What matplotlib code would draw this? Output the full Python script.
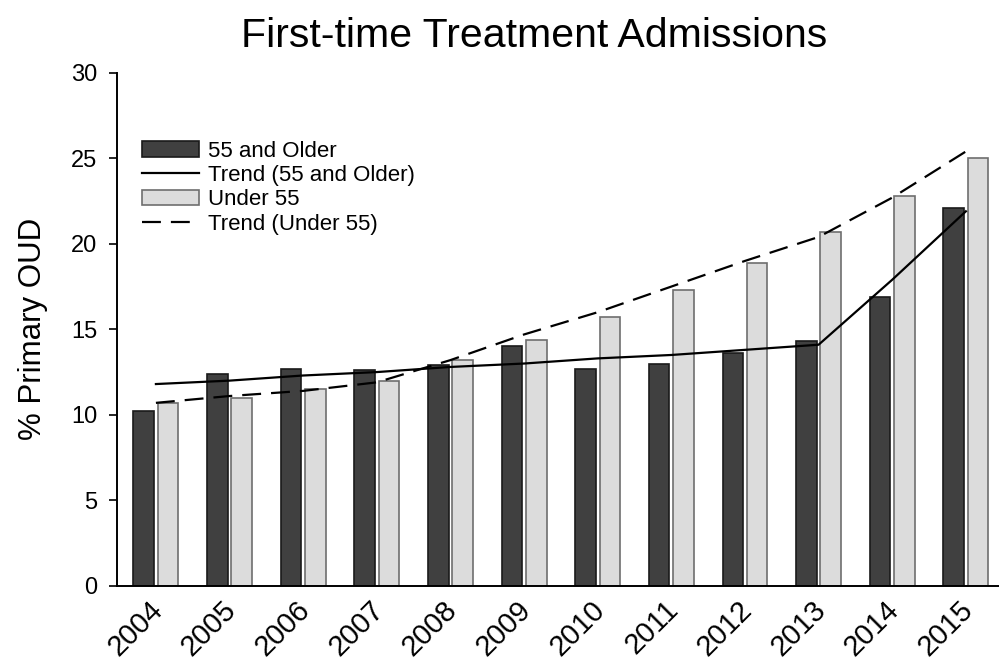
"""
First-time treatment admissions: % primary OUD by age group, with trend lines
"""

import numpy as np
import matplotlib.pyplot as plt

plt.rcParams['font.family'] = ['Liberation Sans', 'DejaVu Sans']

years = ['2004', '2005', '2006', '2007', '2008', '2009',
         '2010', '2011', '2012', '2013', '2014', '2015']
older = [10.2, 12.4, 12.7, 12.6, 12.9, 14.0, 12.7, 13.0, 13.6, 14.3, 16.9, 22.1]
under = [10.7, 11.0, 11.5, 12.0, 13.2, 14.4, 15.7, 17.3, 18.9, 20.7, 22.8, 25.0]
trend_older = [11.8, 12.0, 12.3, 12.5, 12.8, 13.0, 13.3, 13.5, 13.8, 14.1, 17.9, 21.9]
trend_under = [10.7, 11.1, 11.4, 11.9, 13.2, 14.7, 16.0, 17.5, 19.0, 20.4, 22.7, 25.4]

fig = plt.figure(figsize=(9.99, 6.68), dpi=100)
ax = fig.add_axes([0.117, 0.123, 0.883, 0.768])

x = np.arange(len(years))
w = 0.28
off = 0.165

b1 = ax.bar(x - off, older, width=w, color='#404040', edgecolor='#1a1a1a',
            linewidth=1.2, zorder=2)
l1, = ax.plot(x, trend_older, color='black', linewidth=1.6, zorder=3)
b2 = ax.bar(x + off, under, width=w, color='#dcdcdc', edgecolor='#6e6e6e',
            linewidth=1.2, zorder=2)
l2, = ax.plot(x, trend_under, color='black', linewidth=1.6, dashes=(8.5, 4.5),
              zorder=3)

ax.set_xlim(-0.53, 11.45)
ax.set_ylim(0, 30)
ax.set_yticks(range(0, 31, 5))
# ticks are invisible; nudge them a little left so the rotated labels line up
ax.set_xticks(x - 0.1)
ax.set_xticklabels(years, rotation=45, ha='right', rotation_mode='anchor',
                   fontsize=21)
ax.tick_params(axis='x', length=0, pad=7)
ax.tick_params(axis='y', labelsize=17, length=6, width=1.2, pad=8)

for side in ['top', 'right']:
    ax.spines[side].set_visible(False)
ax.spines['left'].set_linewidth(1.4)
ax.spines['bottom'].set_linewidth(1.4)

ax.set_ylabel('% Primary OUD', fontsize=22.5, labelpad=17)
fig.text(0.535, 0.93, 'First-time Treatment Admissions', ha='center',
         va='baseline', fontsize=29.5)

ax.legend([b1, l1, b2, l2],
          ['55 and Older', 'Trend (55 and Older)', 'Under 55', 'Trend (Under 55)'],
          loc='upper left', bbox_to_anchor=(0.028, 0.868), frameon=False,
          fontsize=16, handlelength=2.6, handleheight=0.7,
          labelspacing=0.15, handletextpad=0.37, borderaxespad=0,
          borderpad=0)

fig.savefig('out.png', dpi=100)
